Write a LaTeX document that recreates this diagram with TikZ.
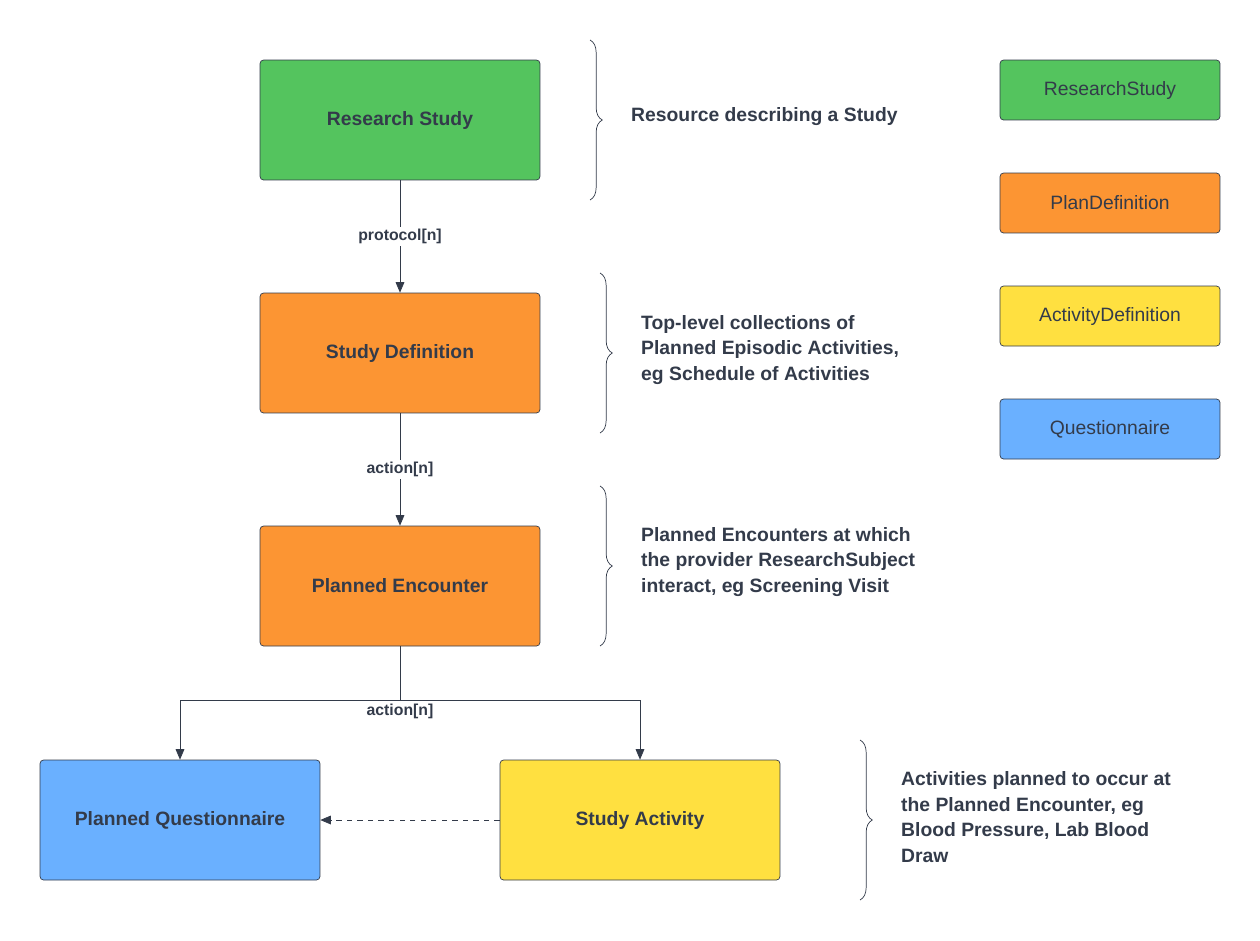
\documentclass[tikz,border=0pt]{standalone}
\usepackage{fontspec}
\setmainfont{Liberation Sans}
\usetikzlibrary{positioning,decorations.pathreplacing,arrows.meta}
\definecolor{txt}{HTML}{333B4A}
\definecolor{cgreen}{HTML}{54C45E}
\definecolor{corange}{HTML}{FC9533}
\definecolor{cyellow}{HTML}{FFE040}
\definecolor{cblue}{HTML}{6AB0FF}
\tikzset{
  box/.style={draw=txt, rounded corners=2pt, minimum width=5.6cm, minimum height=2.4cm, font=\bfseries\fontsize{11}{13}\selectfont, text=txt},
  key/.style={draw=txt, rounded corners=2pt, minimum width=4.4cm, minimum height=1.2cm, font=\fontsize{11}{13}\selectfont, text=txt},
  lbl/.style={fill=white, font=\bfseries\fontsize{9}{11}\selectfont, text=txt, inner sep=1pt},
  note/.style={align=left, anchor=west, font=\bfseries\fontsize{11}{14.5}\selectfont, text=txt},
  brc/.style={draw=txt, decorate, decoration={brace, amplitude=7pt}},
  link/.style={draw=txt, -{Triangle[length=6pt,width=5pt]}}
}
\begin{document}
\begin{tikzpicture}[x=0.02cm,y=-0.02cm]
\useasboundingbox (0,0) rectangle (1260,940);
% main boxes
\node[box, fill=cgreen] (study) at (400,120) {Research Study};
\node[box, fill=corange] (def) at (400,353) {Study Definition};
\node[box, fill=corange] (enc) at (400,586) {Planned Encounter};
\node[box, fill=cblue] (quest) at (180,820) {Planned Questionnaire};
\node[box, fill=cyellow] (act) at (640,820) {Study Activity};

% legend
\node[key, fill=cgreen] (kstudy) at (1110,90) {ResearchStudy};
\node[key, fill=corange] (kplan) at (1110,203) {PlanDefinition};
\node[key, fill=cyellow] (kact) at (1110,316) {ActivityDefinition};
\node[key, fill=cblue] (kquest) at (1110,429) {Questionnaire};

% connectors
\draw[link] (study) -- node[lbl] {protocol[n]} (def);
\draw[link] (def) -- node[lbl] {action[n]} (enc);
\coordinate (split) at (400,700);
\draw[draw=txt] (enc) -- (split);
\draw[link] (split) -| (quest);
\draw[link] (split) -| (act);
\node[lbl, below=1pt of split] (splitlbl) {action[n]};
\draw[link, dashed] (act) -- (quest);

% braces and notes
\draw[brc] (590,40) -- (590,200);
\node[note] (n1) at (625,117) {Resource describing a Study};
\draw[brc] (600,273) -- (600,433);
\node[note] (n2) at (635,350) {Top-level collections of\\Planned Episodic Activities,\\eg Schedule of Activities};
\draw[brc] (600,486) -- (600,646);
\node[note] (n3) at (635,562) {Planned Encounters at which\\the provider ResearchSubject\\interact, eg Screening Visit};
\draw[brc] (860,740) -- (860,900);
\node[note] (n4) at (895,817) {Activities planned to occur at\\the Planned Encounter, eg\\Blood Pressure, Lab Blood\\Draw};
\end{tikzpicture}
\end{document}
